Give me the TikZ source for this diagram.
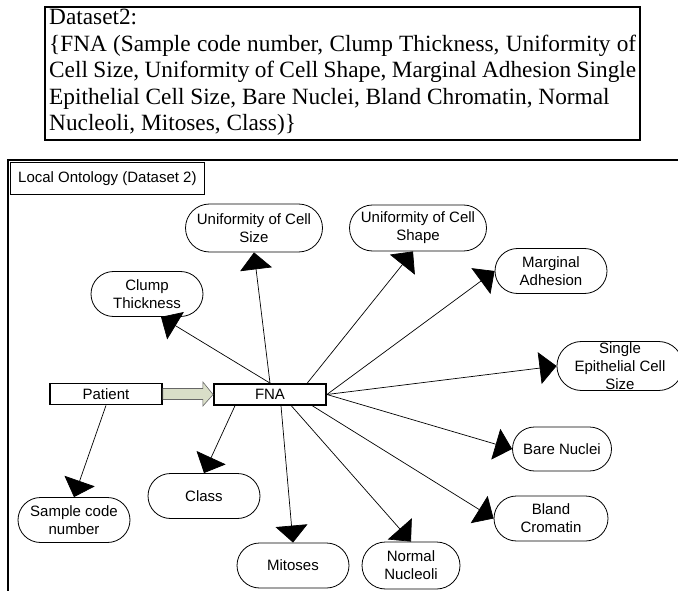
\documentclass[tikz,border=0pt]{standalone}
\usepackage{fontspec}
\setmainfont{Liberation Serif}
\setsansfont{Liberation Sans}
\usetikzlibrary{shapes.misc,arrows.meta,calc}

\begin{document}
\begin{tikzpicture}[x=1pt,y=-1pt,
	prop/.style={draw,rounded rectangle,line width=0.8pt,inner sep=0pt,align=center,font=\sffamily\fontsize{15}{18}\selectfont,minimum width=112pt,minimum height=45pt},
	ent/.style={draw,line width=1.8pt,inner sep=0pt,font=\sffamily\fontsize{15}{18}\selectfont,minimum width=112pt,minimum height=21pt},
	rel/.style={line width=0.7pt,-{Triangle[length=17pt,width=32pt]}}]
			\useasboundingbox (0,0) rectangle (678,591);
			%cuadro del dataset
			\draw[line width=2pt] (45,7) rectangle (640,140);
			\node[anchor=north west,inner sep=0pt,align=left,font=\rmfamily\fontsize{23.3}{26.5}\selectfont] (dataset) at (49,9) {Dataset2:\\
				\makebox[587pt][s]{\{FNA (Sample code number, Clump Thickness, Uniformity of}\\
				\makebox[587pt][s]{Cell Size, Uniformity of Cell Shape, Marginal Adhesion Single}\\
				Epithelial Cell Size, Bare Nuclei, Bland Chromatin, Normal\\
				Nucleoli, Mitoses, Class)\}};
			%marco de la ontologia
			\draw[line width=2pt] (8,592) -- (8,160) -- (679,160);
			\node[draw,line width=0.8pt,anchor=north west,minimum width=194pt,minimum height=32pt,inner sep=0pt,font=\sffamily\fontsize{15}{18}\selectfont] (titulo) at (10,162) {Local Ontology (Dataset 2)};
			%entidades
			\node[ent] (patient) at (106,394) {Patient};
			\node[ent] (fna) at (270,394.5) {FNA};
			%propiedades
			\node[prop,minimum width=137pt,minimum height=48pt] (size) at (254,228) {Uniformity of Cell\\Size};
			\node[prop,minimum width=137pt,minimum height=46pt] (shape) at (418,228) {Uniformity of Cell\\Shape};
			\node[prop] (clump) at (147,294) {Clump\\Thickness};
			\node[prop] (marginal) at (551,271) {Marginal\\Adhesion};
			\node[prop,minimum width=113pt,minimum height=49pt] (single) at (620,366) {Single\\Epithelial Cell\\Size};
			\node[prop,minimum width=99pt,minimum height=44pt] (bare) at (562,449) {Bare Nuclei};
			\node[prop] (class) at (204,496) {Class};
			\node[prop] (sample) at (74,520) {Sample code\\number};
			\node[prop,minimum width=114pt] (bland) at (551,518.5) {Bland\\Cromatin};
			\node[prop] (mitoses) at (293,565.5) {Mitoses};
			\node[prop,minimum width=98pt,minimum height=47pt] (normal) at (411,565.5) {Normal\\Nucleoli};
			%flecha gruesa
			\draw[line width=0.6pt,draw=black!60,fill={rgb,255:red,217;green,222;blue,200}]
				($(patient.east)+(0,-5.5)$) -- ($(patient.east)+(40,-5.5)$) -- ($(patient.east)+(40,-12)$)
				-- (fna.west) -- ($(patient.east)+(40,12)$) -- ($(patient.east)+(40,5.5)$)
				-- ($(patient.east)+(0,5.5)$) -- cycle;
			%relaciones
			\draw[rel] (fna.north) -- ($(clump.south)+(14,0)$);
			\draw[rel] (fna.north) -- (size.south);
			\draw[rel] (fna.17) -- ($(shape.south)+(-5,0)$);
			\draw[rel] (fna.east) -- (marginal.west);
			\draw[rel] (fna.east) -- (single.west);
			\draw[rel] (fna.east) -- (bare.west);
			\draw[rel] (fna.-15) -- (bland.west);
			\draw[rel] (fna.-28) -- (normal.north);
			\draw[rel] (fna.-46) -- (mitoses.north);
			\draw[rel] (fna.198) -- (class.north);
			\draw[rel] (patient.south) -- (sample.north);
		\end{tikzpicture}
\end{document}
